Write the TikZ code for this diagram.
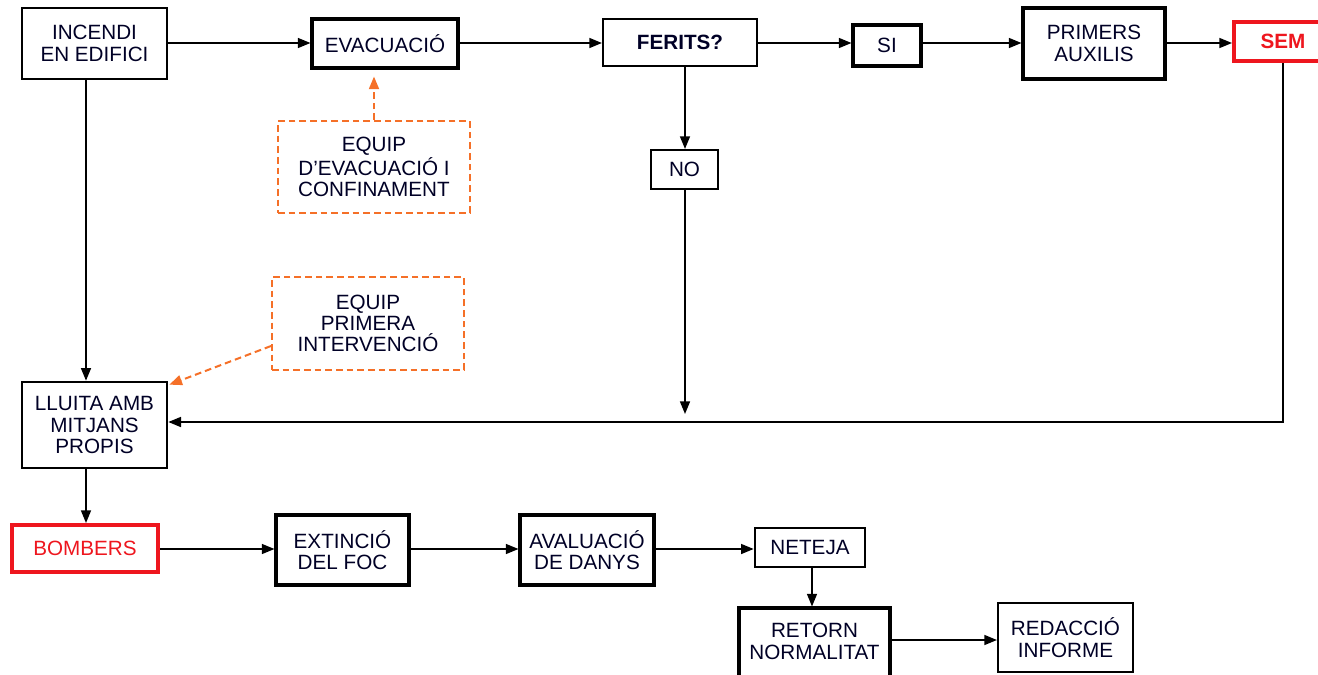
\documentclass[tikz,border=0pt]{standalone}
\usepackage{fontspec}
\setmainfont{Liberation Sans}
\usetikzlibrary{arrows.meta}
\definecolor{eorange}{RGB}{245,112,40}
\definecolor{ered}{RGB}{238,22,30}
\newcommand\fs{\fontsize{15.5}{16}\selectfont}
\tikzset{
  box/.style={draw=black, fill=white, line width=1.6pt, align=center, inner sep=0pt, font=\fs, text=black!85!blue},
  thick box/.style={box, line width=2.3pt},
  wh/.style 2 args={minimum width=#1*0.75pt, minimum height=#2*0.75pt},
  obox/.style={box, draw=eorange, dash pattern=on 5pt off 3pt, line width=1.5pt},
  rbox/.style={box, draw=ered, line width=3pt, text=ered},
  arr/.style={line width=1.2pt, -{Triangle[length=9.5pt,width=7.5pt]}},
  oarr/.style={line width=1.5pt, draw=eorange, dash pattern=on 5pt off 3pt, -{Triangle[length=9.5pt,width=7.5pt,fill=eorange]}},
}
\begin{document}
\begin{tikzpicture}[x=0.75pt,y=-0.75pt]
\useasboundingbox (0,0) rectangle (1318,675);
\clip (0,0) rectangle (1318,675);
% guide coordinates
\coordinate (yt) at (0,43);
\coordinate (yb) at (0,549);
\coordinate (yr) at (0,640);
\coordinate (yh) at (0,422);
\coordinate (xl) at (86,0);
\coordinate (xf) at (685,0);
\coordinate (xn) at (812,0);
% nodes
\node[box, wh={145}{71}] (incendi) at (94.5,43.5) {INCENDI\\EN EDIFICI};
\node[thick box, wh={146}{49}] (evac) at (385,43.5) {EVACUACIÓ};
\node[box, wh={154}{47}] (ferits) at (680,42.5) {\bfseries FERITS?};
\node[thick box, wh={68}{41}] (si) at (887,45.5) {SI};
\node[thick box, wh={142}{71}] (primers) at (1094,43.5) {PRIMERS\\AUXILIS};
\node[rbox, wh={98}{39}] (sem) at (1283,41.5) {\bfseries SEM};
\node[box, wh={67}{39}] (no) at (684.5,169.5) {NO};
\node[obox, wh={192}{92}] (equipa) at (374,167) {EQUIP\\D'EVACUACIÓ I\\CONFINAMENT};
\node[obox, wh={192}{93}] (equipb) at (368,323.5) {EQUIP\\PRIMERA\\INTERVENCIÓ};
\node[box, line width=2pt, wh={145}{86}] (lluita) at (94.5,425) {LLUITA AMB\\MITJANS\\PROPIS};
\node[rbox, wh={146}{47}] (bombers) at (85,548.5) {BOMBERS};
\node[thick box, wh={133}{70}] (extincio) at (342.5,550) {EXTINCIÓ\\DEL FOC};
\node[thick box, wh={134}{70}] (avaluacio) at (587,550) {AVALUACIÓ\\DE DANYS};
\node[box, line width=2pt, wh={110}{39}] (neteja) at (810,547.5) {NETEJA};
\node[thick box, wh={151}{80}, text depth=10pt] (retorn) at (814.5,648) {RETORN\\NORMALITAT};
\node[box, wh={135}{69}] (redaccio) at (1065.5,637.5) {REDACCIÓ\\INFORME};
\coordinate (noend) at (685,414);
\coordinate (semcorner) at (sem.south |- yh);
% connectors
\draw[arr] (incendi.east |- yt) -- (evac.west |- yt);
\draw[arr] (evac.east |- yt) -- (ferits.west |- yt);
\draw[arr] (ferits.east |- yt) -- (si.west |- yt);
\draw[arr] (si.east |- yt) -- (primers.west |- yt);
\draw[arr] (primers.east |- yt) -- (sem.west |- yt);
\draw[oarr, shorten >=7*0.75pt] (equipa.north) -- (evac.south -| equipa.north);
\draw[arr] (ferits.south -| xf) -- (no.north -| xf);
\draw[arr] (no.south -| xf) -- (noend);
\draw[arr] (sem.south) -- (semcorner) -- (lluita.east |- yh);
\draw[arr] (incendi.south -| xl) -- (lluita.north -| xl);
\draw[oarr] ([yshift=-22.5*0.75pt]equipb.west) -- ([xshift=1*0.75pt,yshift=-4*0.75pt]lluita.north east);
\draw[arr] (lluita.south -| xl) -- (bombers.north -| xl);
\draw[arr] (bombers.east |- yb) -- (extincio.west |- yb);
\draw[arr] (extincio.east |- yb) -- (avaluacio.west |- yb);
\draw[arr] (avaluacio.east |- yb) -- (neteja.west |- yb);
\draw[arr] (neteja.south -| xn) -- (retorn.north -| xn);
\draw[arr] (retorn.east |- yr) -- (redaccio.west |- yr);
\end{tikzpicture}
\end{document}
